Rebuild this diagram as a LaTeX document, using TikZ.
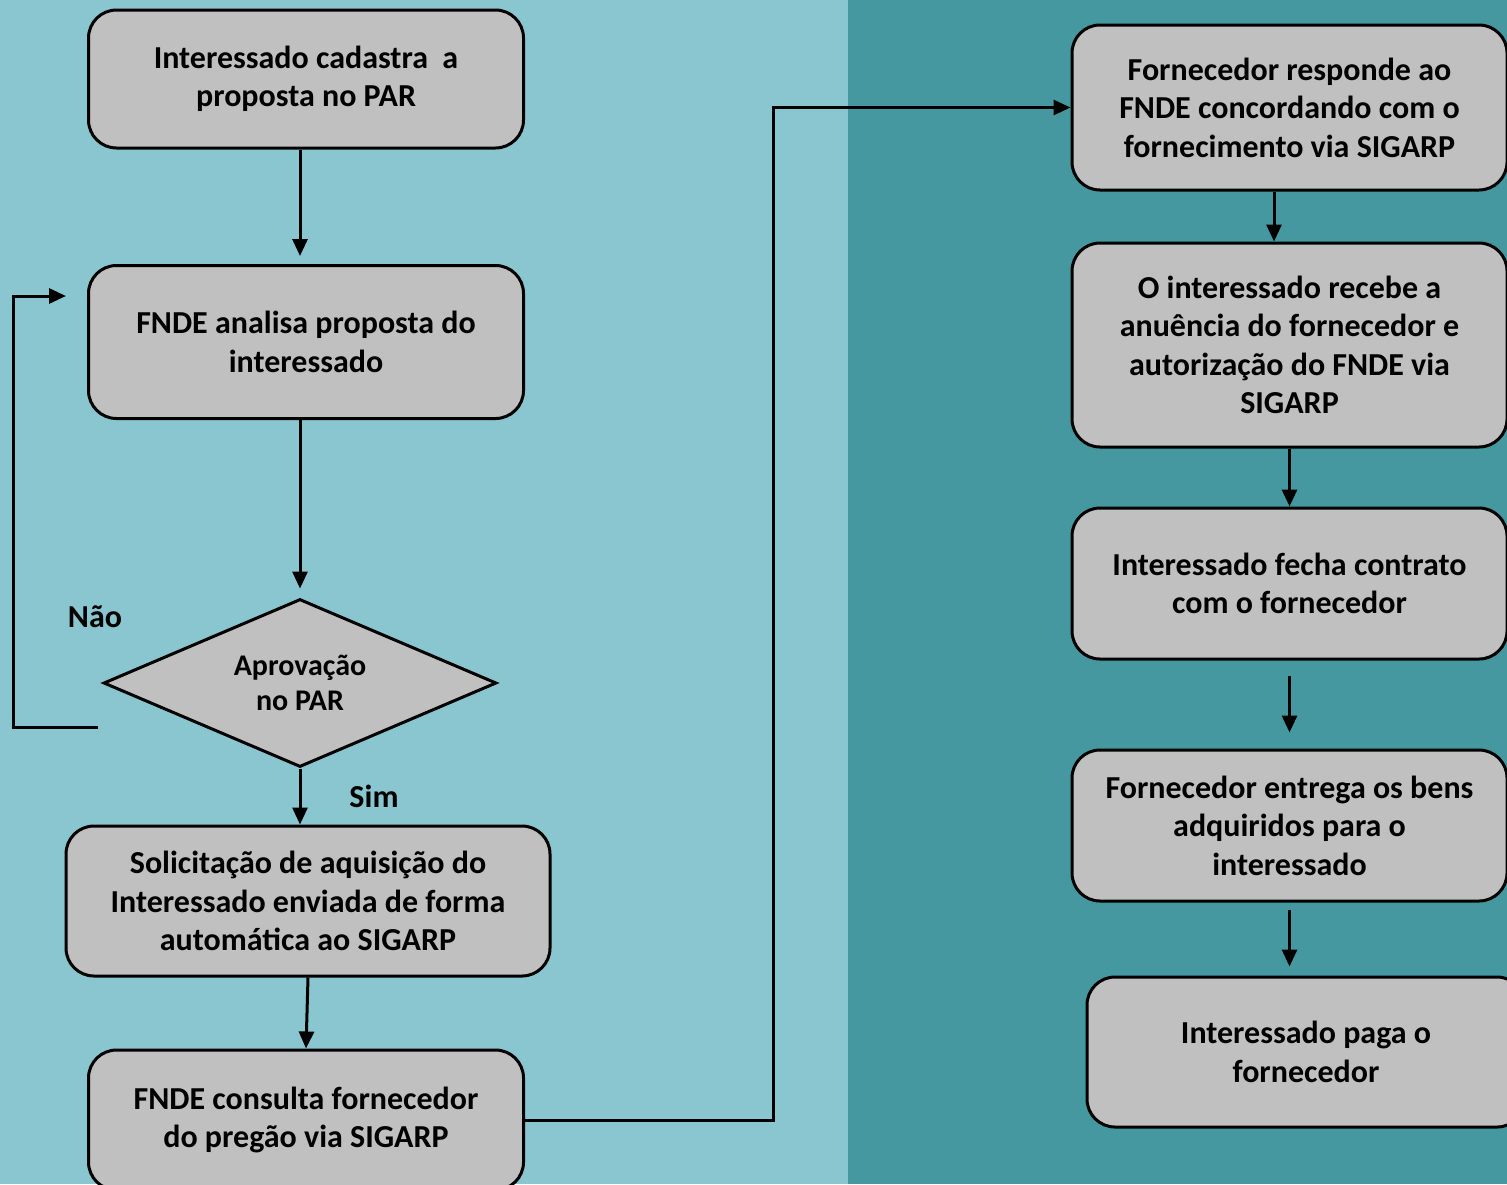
\documentclass[tikz,border=0pt]{standalone}
\usepackage{fontspec}
\setmainfont{Carlito}
\usetikzlibrary{shapes.geometric,arrows.meta}
\definecolor{fundoclaro}{HTML}{8AC6CF}
\definecolor{fundoescuro}{HTML}{4698A0}
\definecolor{caixa}{HTML}{C0C0C0}
\begin{document}
\begin{tikzpicture}[x=0.5pt,y=-0.5pt,
    etapa/.style={draw, fill=caixa, line width=1.5pt, rounded corners=14pt,
      align=center, inner sep=0pt, font=\bfseries\fontsize{16}{19.25}\selectfont},
    decisao/.style={draw, fill=caixa, line width=1.5pt, diamond, aspect=2.34, inner sep=0pt,
      align=center, font=\bfseries\fontsize{15}{17.5}\selectfont},
    rotulo/.style={font=\bfseries\fontsize{16}{19.25}\selectfont},
    seta/.style={-{Triangle[length=8.5pt,width=7.5pt]}, line width=1.5pt}]
      \useasboundingbox (0,0) rectangle (1507,1184);
      \clip (0,0) rectangle (1507,1184);
      \fill[fundoclaro] (0,0) rectangle (848,1184);
      \fill[fundoescuro] (848,0) rectangle (1507,1184);

      % coluna da esquerda
      \node[etapa, minimum width=217.5pt, minimum height=69pt] (cadastra) at (306,79)
        {Interessado cadastra\ \ a\\proposta no PAR};
      \node[etapa, minimum width=217.5pt, minimum height=76.5pt] (analisa) at (306,342)
        {FNDE analisa proposta do\\interessado};
      \node[decisao, minimum width=196.5pt, minimum height=84pt] (aprova) at (300,683)
        {Aprovação\\no PAR};
      \node[etapa, minimum width=242pt, minimum height=75pt] (solicita) at (308,901)
        {Solicitação de aquisição do\\Interessado enviada de forma\\automática ao SIGARP};
      \node[etapa, minimum width=217.5pt, minimum height=70pt] (consulta) at (306,1120)
        {FNDE consulta fornecedor\\do pregão via SIGARP};

      % coluna da direita
      \node[etapa, minimum width=217.5pt, minimum height=82.5pt] (responde) at (1289.5,107.5)
        {Fornecedor responde ao\\FNDE concordando com o\\fornecimento via SIGARP};
      \node[etapa, minimum width=217.5pt, minimum height=102pt] (recebe) at (1289.5,345)
        {O interessado recebe a\\anuência do fornecedor e\\autorização do FNDE via\\SIGARP};
      \node[etapa, minimum width=217.5pt, minimum height=75.5pt] (contrato) at (1289.5,583.5)
        {Interessado fecha contrato\\com o fornecedor};
      \node[etapa, minimum width=217.5pt, minimum height=75.5pt] (entrega) at (1289.5,825.5)
        {Fornecedor entrega os bens\\adquiridos para o\\interessado};
      \node[etapa, minimum width=219pt, minimum height=75pt] (paga) at (1306,1052)
        {Interessado paga o\\fornecedor};

      \node[rotulo] (nao) at (95,617) {Não};
      \node[rotulo] (sim) at (374,796) {Sim};

      \coordinate (saida) at (98,727);
      \coordinate (retorno) at (66,296);

      \draw[seta, shorten >=4pt] (cadastra.south -| aprova.north) -- (analisa.north -| aprova.north);
      \draw[seta, shorten >=4.5pt] (analisa.south -| aprova.north) -- (aprova.north);
      \draw[seta] (aprova.south) -- (solicita.north -| aprova.south);
      \draw[seta] (solicita.south) -- (consulta.north);
      \draw[seta] (saida) -- (13,727) |- (retorno);
      \draw[seta] (consulta.east) -- ++(248,0) |- (responde.west);

      \draw[seta] ([xshift=-7.75pt]responde.south) -- ([xshift=-7.75pt]recebe.north);
      \draw[seta] (recebe.south) -- (contrato.north);
      \draw[seta, shorten <=7.5pt, shorten >=8pt] (contrato.south) -- (entrega.north);
      \draw[seta, shorten <=3.5pt, shorten >=4.5pt] (entrega.south) -- (entrega.south |- paga.north);
\end{tikzpicture}
\end{document}
